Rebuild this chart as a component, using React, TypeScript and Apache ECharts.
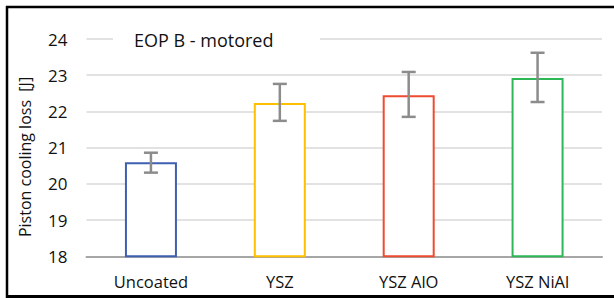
import React, { useEffect, useRef } from "react";
import * as echarts from "echarts";

const categories = ["Uncoated", "YSZ", "YSZ AlO", "YSZ NiAl"];
const values = [20.6, 22.23, 22.45, 22.92];
const errLow = [20.31, 21.74, 21.85, 22.26];
const errHigh = [20.86, 22.76, 23.09, 23.62];
const yTicks = [18, 19, 20, 21, 22, 23, 24];
const titleText = "EOP B - motored";
const yName = "Piston cooling loss  [J]";

const barColors = ["#3F5FB0", "#FFC000", "#EE4B30", "#2DB757"];
const FONT = "Open Sans";

export default function App() {
  const ref = useRef<HTMLDivElement>(null);
  useEffect(() => {
    if (!ref.current) return;
    const chart = echarts.init(ref.current, null, { renderer: "svg" });
    const option: any = {
      animation: false,
      backgroundColor: "#fff",
      textStyle: { fontFamily: FONT },
      grid: { left: 86.5, right: 12, top: 39, bottom: 41.7 },
      xAxis: {
        type: "category",
        data: categories,
        axisTick: { show: false },
        axisLine: { lineStyle: { color: "#A6A6A6", width: 2 } },
        axisLabel: { color: "#111", fontSize: 16.5, fontFamily: FONT, margin: 17 },
      },
      yAxis: {
        type: "value",
        min: yTicks[0],
        max: yTicks[yTicks.length - 1],
        interval: 1,
        axisLine: { show: false },
        axisTick: { show: false },
        axisLabel: { color: "#111", fontSize: 17, fontFamily: FONT, margin: 19 },
        splitLine: { lineStyle: { color: "#D9D9D9", width: 1.5 } },
      },
      series: [
        {
          type: "bar",
          barWidth: 52,
          data: values.map((v, i) => ({
            value: v,
            itemStyle: { color: "#fff", borderColor: barColors[i], borderWidth: 2 },
          })),
          z: 2,
        },
        {
          type: "custom",
          z: 3,
          data: categories.map((_, i) => [i, errLow[i], errHigh[i]]),
          renderItem: (params: any, api: any) => {
            const x = api.value(0);
            const lo = api.coord([x, api.value(1)]);
            const hi = api.coord([x, api.value(2)]);
            const hw = 7;
            const style = { stroke: "#8C8C8C", lineWidth: 2.5 };
            return {
              type: "group",
              children: [
                { type: "line", shape: { x1: lo[0], y1: lo[1], x2: hi[0], y2: hi[1] }, style },
                { type: "line", shape: { x1: hi[0] - hw, y1: hi[1], x2: hi[0] + hw, y2: hi[1] }, style },
                { type: "line", shape: { x1: lo[0] - hw, y1: lo[1], x2: lo[0] + hw, y2: lo[1] }, style },
              ],
            };
          },
        },
      ],
      graphic: [
        {
          type: "rect",
          z: 100,
          shape: { x: 113, y: 29, width: 207, height: 22 },
          style: { fill: "#fff" },
        },
        {
          type: "text",
          z: 101,
          x: 134,
          y: 40,
          style: {
            text: titleText,
            fontSize: 18,
            fontFamily: FONT,
            fill: "#111",
            textVerticalAlign: "middle",
            verticalAlign: "middle",
          },
        },
        {
          type: "text",
          z: 101,
          x: 25,
          y: 157,
          rotation: Math.PI / 2,
          style: {
            text: yName,
            fontSize: 16,
            fontFamily: FONT,
            fill: "#111",
            align: "center",
            verticalAlign: "middle",
          },
        },
        {
          type: "line",
          z: 110,
          shape: { x1: 7, y1: 6, x2: 7, y2: 298 },
          style: { stroke: "#000", lineWidth: 2.5 },
        },
        {
          type: "line",
          z: 110,
          shape: { x1: 6, y1: 7, x2: 614, y2: 7 },
          style: { stroke: "#000", lineWidth: 2.5 },
        },
        {
          type: "line",
          z: 110,
          shape: { x1: 6, y1: 296.5, x2: 614, y2: 296.5 },
          style: { stroke: "#000", lineWidth: 3 },
        },
      ],
    };
    chart.setOption(option);
    return () => chart.dispose();
  }, []);
  return (
    <div
      ref={ref}
      style={{ position: "fixed", left: 0, top: 0, width: 614, height: 298 }}
    />
  );
}
